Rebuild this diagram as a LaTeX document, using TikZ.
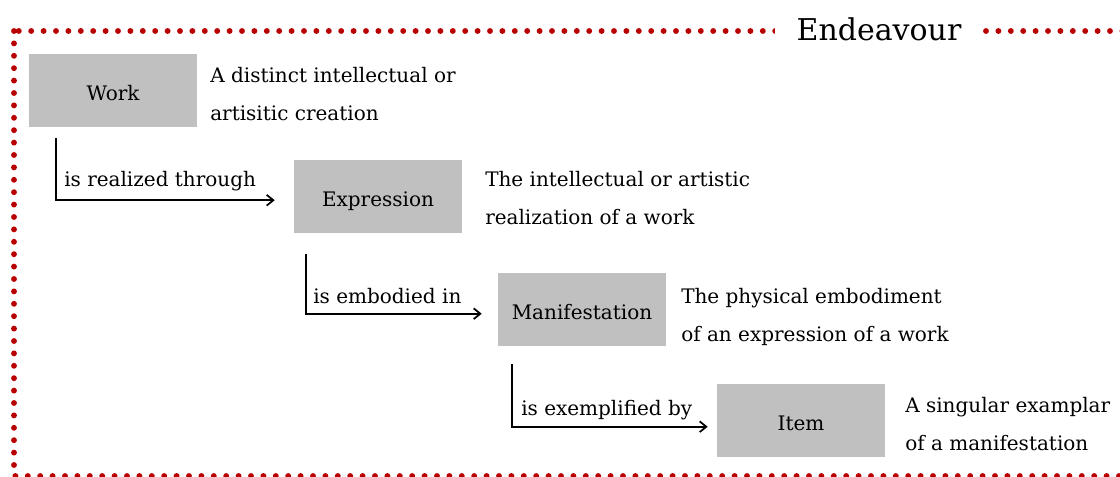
\documentclass[tikz,border=0pt]{standalone}
\usepackage{fontspec}
\setmainfont{DejaVu Serif}
\usetikzlibrary{calc,arrows.meta}
\definecolor{framered}{RGB}{185,0,0}
\definecolor{boxgray}{RGB}{192,192,192}
\newcommand\desclines[2]{\begin{tabular}[t]{@{}l@{}}#1\\[10.5pt]#2\end{tabular}}
\begin{document}
\begin{tikzpicture}[x=0.75pt,y=-0.75pt,
  basefont/.style={font=\fontsize{15}{18}\selectfont},
  entity/.style={basefont, fill=boxgray, minimum width=126pt, minimum height=54.75pt,
    inner sep=0pt, text height=15pt, text depth=0pt},
  desc/.style={basefont, anchor=base west, inner sep=0pt},
  rellabel/.style={basefont, anchor=base west, inner sep=0pt},
  rel/.style={line width=1.3pt, -{Straight Barb[length=5pt,width=8pt]}},
  frame/.style={draw=framered, line width=4.4pt, line cap=round, dash pattern=on 0pt off 9.3pt}]
\useasboundingbox (0,0) rectangle (1120,477);
% frame
\draw[frame] (14,31) rectangle (1140,476);
\node[fill=white, inner xsep=16pt, inner ysep=2pt, font=\fontsize{22.5}{27}\selectfont, anchor=base] (title) at (879,40.7) {Endeavour};
% entities
\node[entity] (work)  at (113,90.5)  {Work};
\node[entity] (expr)  at (378,197)   {Expression};
\node[entity] (manif) at (582,309.5) {Manifestation};
\node[entity] (item)  at (801,420.5) {Item};
% descriptions
\node[desc] (workd)  at (210,83)  {\desclines{A distinct intellectual or}{artisitic creation}};
\node[desc] (exprd)  at (485,187) {\desclines{The intellectual or artistic}{realization of a work}};
\node[desc] (manifd) at (681,303) {\desclines{The physical embodiment}{of an expression of a work}};
\node[desc] (itemd)  at (905,412) {\desclines{A singular examplar}{of a manifestation}};
% relations
\coordinate (s1) at ($(work.south west)+(27,11)$);
\coordinate (e1) at ($(expr.north west)+(-19,40)$);
\draw[rel] (s1) |- (e1);
\node[rellabel] (r1) at (64,187) {is realized through};
\coordinate (s2) at ($(expr.south west)+(12,20)$);
\coordinate (e2) at ($(manif.north west)+(-16,41)$);
\draw[rel] (s2) |- (e2);
\node[rellabel] (r2) at (313,303) {is embodied in};
\coordinate (s3) at ($(manif.south west)+(14,18)$);
\coordinate (e3) at ($(item.north west)+(-9,43)$);
\draw[rel] (s3) |- (e3);
\node[rellabel] (r3) at (521,415) {is exemplified by};
\end{tikzpicture}
\end{document}
